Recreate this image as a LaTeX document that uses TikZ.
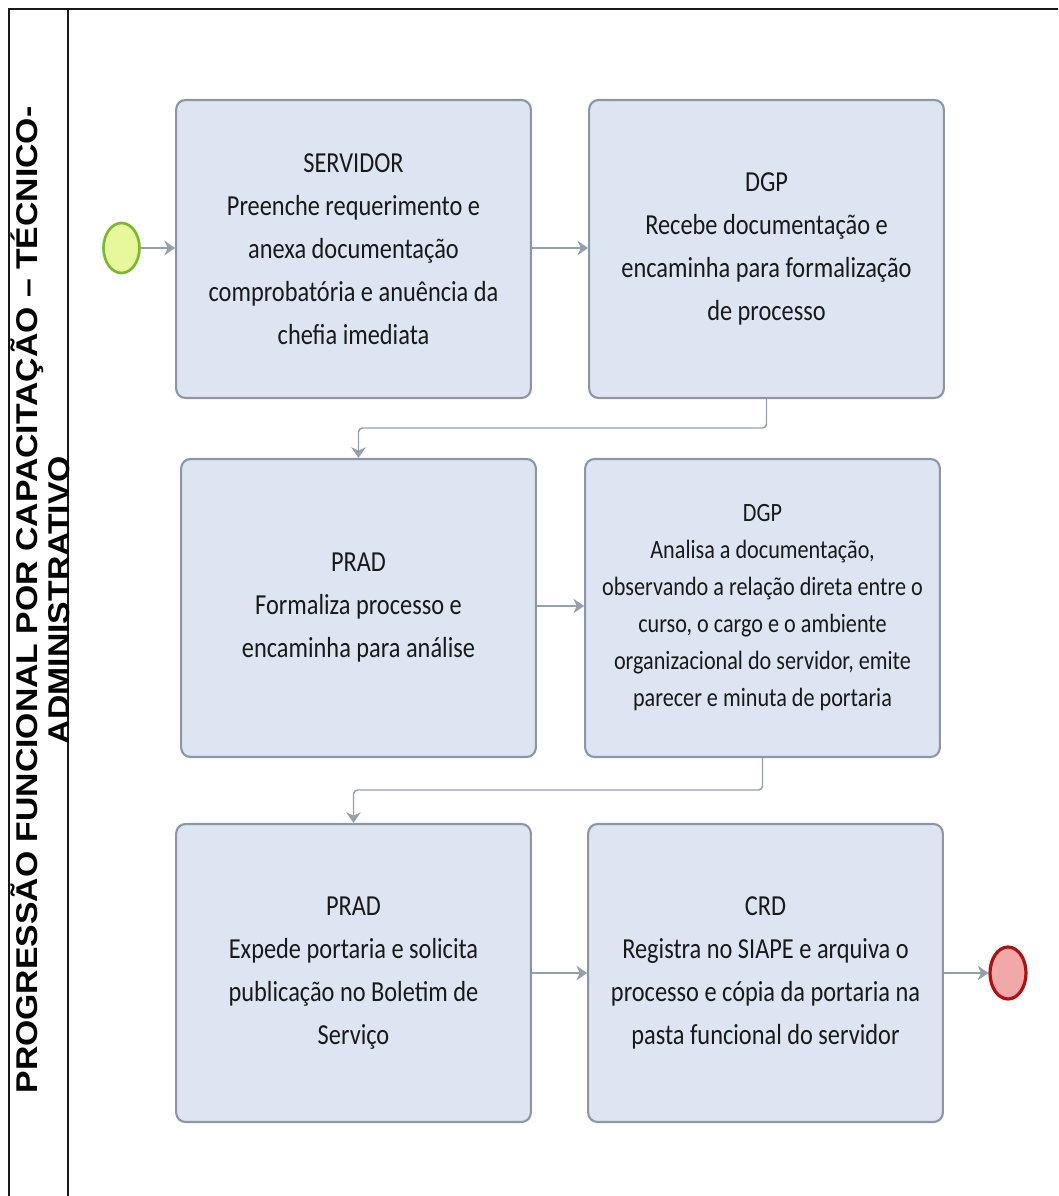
\documentclass[tikz,border=0pt]{standalone}
\usepackage{fontspec}
\usetikzlibrary{arrows.meta,shapes.geometric}
\newfontfamily\boxfont[FakeStretch=0.84]{Carlito}
\newfontfamily\lanefont[FakeStretch=1.125]{Liberation Sans}
\definecolor{boxfill}{RGB}{220,229,241}
\definecolor{boxline}{RGB}{140,150,165}
\definecolor{conn}{RGB}{150,160,172}
\definecolor{startfill}{RGB}{230,248,155}
\definecolor{startline}{RGB}{122,184,45}
\definecolor{endfill}{RGB}{240,168,168}
\definecolor{endline}{RGB}{176,16,16}
\tikzset{
  task/.style={draw=boxline, fill=boxfill, line width=1.6pt, rounded corners=7pt,
    minimum width=266pt, minimum height=223.5pt, align=center, inner sep=0pt,
    font=\boxfont\fontsize{21.75pt}{32.25pt}\selectfont, text=black!90},
  tasksmall/.style={task, font=\boxfont\fontsize{19.8pt}{27.75pt}\selectfont},
  startev/.style={ellipse, draw=startline, fill=startfill, line width=2pt,
    minimum width=27pt, minimum height=37.5pt, inner sep=0pt},
  endev/.style={ellipse, draw=endline, fill=endfill, line width=2.4pt,
    minimum width=27pt, minimum height=39pt, inner sep=0pt},
  flow/.style={draw=conn, line width=1.1pt, -{Stealth[length=8pt,width=11pt,inset=2.5pt]}},
  lane/.style={draw=black!90, line width=0.9pt}
}
\begin{document}
\begin{tikzpicture}[x=0.75pt,y=-0.75pt]
\useasboundingbox (0,0) rectangle (1058,1196);
% pool frame
\coordinate (ftl) at (9,9);
\coordinate (ftr) at (1058,9);
\coordinate (fbl) at (9,1196);
\coordinate (ltop) at (68,9);
\coordinate (lbot) at (68,1196);
\draw[lane] (fbl) -- (ftl) -- (ftr);
\draw[lane] (ltop) -- (lbot);
\node[rotate=90, align=center, font=\lanefont\bfseries\fontsize{22.5pt}{24pt}\selectfont] (lanelabel) at (40,600)
  {PROGRESSÃO FUNCIONAL POR CAPACITAÇÃO – TÉCNICO-\\ADMINISTRATIVO};
% tasks
\node[task] (b1) at (353.5,249) {SERVIDOR\\Preenche requerimento e\\anexa documentação\\comprobatória e anuência da\\chefia imediata};
\node[task] (b2) at (766.5,249) {DGP\\Recebe documentação e\\encaminha para formalização\\de processo};
\node[task] (b3) at (358.5,608) {PRAD\\Formaliza processo e\\encaminha para análise};
\node[tasksmall] (b4) at (762.5,608) {DGP\\Analisa a documentação,\\observando a relação direta entre o\\curso, o cargo e o ambiente\\organizacional do servidor, emite\\parecer e minuta de portaria};
\node[task] (b5) at (353.5,973) {PRAD\\Expede portaria e solicita\\publicação no Boletim de\\Serviço};
\node[task] (b6) at (765.5,973) {CRD\\Registra no SIAPE e arquiva o\\processo e cópia da portaria na\\pasta funcional do servidor};
% events
\node[startev] (start) at (121.5,248) {};
\node[endev] (end) at (1008,973) {};
% flows
\coordinate (k1) at (766.5,428);
\coordinate (k2) at (762.5,790);
\draw[flow] (start) -- (start -| b1.west);
\draw[flow] (b1.east |- start) -- (b2.west |- start);
\draw[flow, rounded corners=3pt] (b2.south) -- (k1) -| (b3.north);
\draw[flow] (b3.east |- 0,606) -- (b4.west |- 0,606);
\draw[flow, rounded corners=3pt] (b4.south) -- (k2) -| (b5.north);
\draw[flow] (b5.east |- end) -- (b6.west |- end);
\draw[flow] (b6.east |- end) -- (end);
\end{tikzpicture}
\end{document}
